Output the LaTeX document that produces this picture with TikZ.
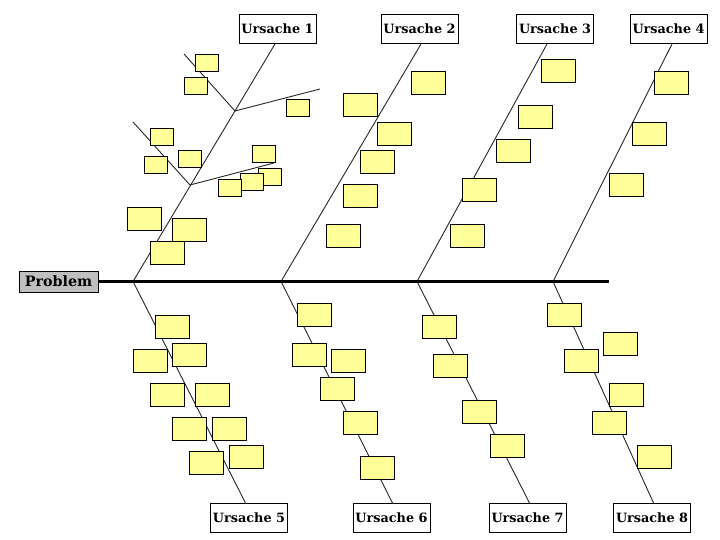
\documentclass[tikz,border=0pt]{standalone}
\usepackage{fontspec}
\setmainfont{DejaVu Serif}
\definecolor{note}{RGB}{255,255,153}
\begin{document}
\begin{tikzpicture}[x=1pt,y=-1pt,
  bone/.style={draw=black!85,line width=0.9pt},
  spine/.style={draw=black,line width=3pt},
  cause/.style={draw=black,fill=white,line width=0.9pt,minimum width=77pt,minimum height=29pt,inner sep=0pt,font=\bfseries\fontsize{12.8}{15}\selectfont},
  prob/.style={draw=black,fill=black!25,line width=0.9pt,minimum width=79pt,minimum height=21pt,inner sep=0pt,font=\bfseries\fontsize{14.3}{16}\selectfont},
  ys/.style={draw=black,fill=note,line width=0.9pt,minimum width=23pt,minimum height=17pt,inner sep=0pt},
  yl/.style={draw=black,fill=note,line width=0.9pt,minimum width=34pt,minimum height=23pt,inner sep=0pt}]
\useasboundingbox (0,0) rectangle (720,540);
% labels
\node[prob] (prob) at (58.5,281.5) {Problem};
\node[cause] (u1) at (277.5,28.5) {Ursache 1};
\node[cause] (u2) at (419.5,28.5) {Ursache 2};
\node[cause] (u3) at (555,28.5) {Ursache 3};
\node[cause] (u4) at (668.5,28.5) {Ursache 4};
\node[cause] (u5) at (249,518) {Ursache 5};
\node[cause] (u6) at (391.5,518) {Ursache 6};
\node[cause] (u7) at (527.5,518) {Ursache 7};
\node[cause] (u8) at (652,518) {Ursache 8};
% junctions and bone ends
\coordinate (j1) at (133,281.5);
\coordinate (j2) at (281,281.5);
\coordinate (j3) at (417,281.5);
\coordinate (j4) at (553,281.5);
\coordinate (spineend) at (609,281.5);
\coordinate (t1) at (275,44);
\coordinate (t2) at (421,44);
\coordinate (t3) at (547,44);
\coordinate (t4) at (672,44);
\coordinate (b5) at (246,504);
\coordinate (b6) at (393,504);
\coordinate (b7) at (530,504);
\coordinate (b8) at (654,504);
\coordinate (s1) at (235,111);
\coordinate (s1a) at (184,54);
\coordinate (s1b) at (320,89);
\coordinate (s2) at (190,185);
\coordinate (s2a) at (133,122);
\coordinate (s2b) at (274,163);
% bones
\draw[bone] (j1) -- (t1);
\draw[bone] (j2) -- (t2);
\draw[bone] (j3) -- (t3);
\draw[bone] (j4) -- (t4);
\draw[bone] (j1) -- (b5);
\draw[bone] (j2) -- (b6);
\draw[bone] (j3) -- (b7);
\draw[bone] (j4) -- (b8);
\draw[bone] (s1) -- (s1a);
\draw[bone] (s1) -- (s1b);
\draw[bone] (s2) -- (s2a);
\draw[bone] (s2) -- (s2b);
\draw[spine] (prob.east) -- (spineend);
% sticky notes, cause 1
\node[ys] (n1) at (207,62.5) {};
\node[ys] (n2) at (195.5,85.5) {};
\node[ys] (n3) at (297.5,107.5) {};
\node[ys] (n4) at (161.5,136.5) {};
\node[ys] (n5) at (155.5,164.5) {};
\node[ys] (n6) at (189.5,158.5) {};
\node[ys] (n7) at (263.5,153.5) {};
\node[ys] (n8) at (269.5,176.5) {};
\node[ys] (n9) at (251.5,181.5) {};
\node[ys] (n10) at (229.5,187.5) {};
\node[yl] (n11) at (144,218.5) {};
\node[yl] (n12) at (189,230) {};
\node[yl] (n13) at (167,252.5) {};
% cause 2
\node[yl] (m1) at (428,82.5) {};
\node[yl] (m2) at (360,105) {};
\node[yl] (m3) at (394,133.5) {};
\node[yl] (m4) at (377,161.5) {};
\node[yl] (m5) at (360,196) {};
\node[yl] (m6) at (343,235.5) {};
% cause 3
\node[yl] (k1) at (558,71) {};
\node[yl] (k2) at (535,116.5) {};
\node[yl] (k3) at (513,150.5) {};
\node[yl] (k4) at (479,190) {};
\node[yl] (k5) at (467,235.5) {};
% cause 4
\node[yl] (h1) at (671,82.5) {};
\node[yl] (h2) at (649,133.5) {};
\node[yl] (h3) at (626,184.5) {};
% cause 5
\node[yl] (p1) at (172,326.5) {};
\node[yl] (p2) at (150,360.5) {};
\node[yl] (p3) at (189,354.5) {};
\node[yl] (p4) at (167,394.5) {};
\node[yl] (p5) at (212,394.5) {};
\node[yl] (p6) at (189,428.5) {};
\node[yl] (p7) at (229,428.5) {};
\node[yl] (p8) at (206,462.5) {};
\node[yl] (p9) at (246,456.5) {};
% cause 6
\node[yl] (q1) at (314,315) {};
\node[yl] (q2) at (309,354.5) {};
\node[yl] (q3) at (348,360.5) {};
\node[yl] (q4) at (337,388.5) {};
\node[yl] (q5) at (360,422.5) {};
\node[yl] (q6) at (377,468) {};
% cause 7
\node[yl] (r1) at (439,326.5) {};
\node[yl] (r2) at (450,366) {};
\node[yl] (r3) at (479,411.5) {};
\node[yl] (r4) at (507,445.5) {};
% cause 8
\node[yl] (w1) at (564,315) {};
\node[yl] (w2) at (620,343.5) {};
\node[yl] (w3) at (581,360.5) {};
\node[yl] (w4) at (626,394.5) {};
\node[yl] (w5) at (609,422.5) {};
\node[yl] (w6) at (654,456.5) {};
\end{tikzpicture}
\end{document}
